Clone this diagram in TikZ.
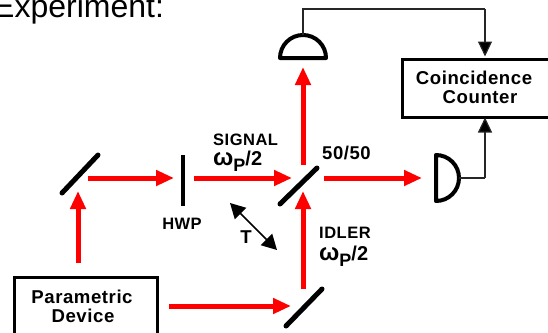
\documentclass[tikz,border=0pt]{standalone}
\usepackage{fontspec}
\setmainfont{Liberation Sans}
\newfontfamily\lblfont[LetterSpace=3,BoldFont={Liberation Sans Bold}]{Liberation Sans}
\usetikzlibrary{arrows.meta}
\tikzset{
  x=1pt,y=-1pt,
  redarrow/.style={draw=red,line width=5pt,-{Triangle[length=18pt,width=15pt,fill=red]}},
  wire/.style={draw=black!85,line width=1.2pt},
  wirearrow/.style={wire,-{Triangle[length=15pt,width=14pt,fill=black]}},
  mirror/.style={line width=5pt,line cap=round},
  det/.style={line width=4pt,line cap=round,line join=round},
  boxnode/.style={draw,line width=3pt,inner sep=0pt,anchor=north west},
  lbl/.style={inner sep=0pt,font=\lblfont\fontsize{16.5}{18}\selectfont\bfseries,align=center},
  big/.style={inner sep=0pt,font=\lblfont\fontsize{18.6}{21}\selectfont\bfseries,align=center},
  title/.style={inner sep=0pt,anchor=base west,font=\fontsize{32}{36}\selectfont},
  omega/.style={lbl,anchor=base west,font=\fontsize{20}{22}\selectfont\bfseries},
}
\newcommand{\omegaP}{{\fontsize{24}{24}\selectfont ω}\raisebox{-6pt}{\fontsize{18}{18}\selectfont P}/2}
\begin{document}
\begin{tikzpicture}
\useasboundingbox (0,0) rectangle (548,332);
\clip (0,0) rectangle (548,332);
% boxes
\node[boxnode,minimum width=143pt,minimum height=70pt] (device) at (13,276) {};
\node[boxnode,minimum width=160pt,minimum height=58pt] (counter) at (400.5,58) {};
% texts
\node[title] (ttl) at (-7,17) {Experiment:};
\node[big] (tc1) at (474,78) {Coincidence};
\node[big] (tc2) at (480,97) {Counter};
\node[big] (td1) at (82,297) {Parametric};
\node[big] (td2) at (83,316) {Device};
\node[lbl,anchor=base west] (sig) at (213,145) {SIGNAL};
\node[omega] (sigw) at (213,165) {\omegaP};
\node[lbl,anchor=base west,font=\lblfont\fontsize{18.5}{20}\selectfont\bfseries] (ff) at (322,159) {50/50};
\node[lbl] (hwp) at (182,224) {HWP};
\node[big] (tt) at (246,237) {T};
\node[lbl,anchor=base west] (idl) at (319,238) {IDLER};
\node[omega] (idlw) at (319,260) {\omegaP};
% optics
\coordinate (m1a) at (62,193); \coordinate (m1b) at (98,155);
\coordinate (m2a) at (280,204); \coordinate (m2b) at (317,168);
\coordinate (m3a) at (286,326); \coordinate (m3b) at (322,289);
\coordinate (hwa) at (183,155); \coordinate (hwb) at (183,206);
\draw[mirror] (m1a) -- (m1b);
\draw[mirror] (m2a) -- (m2b);
\draw[mirror] (m3a) -- (m3b);
\draw[line width=4.5pt] (hwa) -- (hwb);
% detectors
\coordinate (d1l) at (280,58); \coordinate (d1r) at (326,58);
\coordinate (d1t) at (303,35);
\coordinate (d2t) at (436,155); \coordinate (d2b) at (436,201);
\coordinate (d2r) at (459,178);
\draw[det] (d1l) -- (d1r) arc[start angle=0,delta angle=-180,radius=23] -- cycle;
\draw[det] (d2t) -- (d2b) arc[start angle=90,delta angle=-180,radius=23] -- cycle;
% wires
\coordinate (w1) at (303,9); \coordinate (w2) at (485,9);
\coordinate (c1) at (485,56.5); \coordinate (w3) at (485,178); \coordinate (c2) at (485,117.5);
\draw[wire] (d1t) -- (w1) -- (w2);
\draw[wirearrow] (w2) -- (c1);
\draw[wire] (d2r) -- (w3);
\draw[wirearrow] (w3) -- (c2);
% beams
\coordinate (b1s) at (78,263); \coordinate (b1e) at (78,191);
\coordinate (b2s) at (88,178); \coordinate (b2e) at (174,178);
\coordinate (b3s) at (194,178); \coordinate (b3e) at (292,178);
\coordinate (b4s) at (324,178); \coordinate (b4e) at (422,178);
\coordinate (b5s) at (303,289); \coordinate (b5e) at (303,191);
\coordinate (b6s) at (303,165); \coordinate (b6e) at (303,67);
\coordinate (b7s) at (169,306); \coordinate (b7e) at (291,306);
\foreach \s/\e in {b1s/b1e,b2s/b2e,b3s/b3e,b4s/b4e,b5s/b5e,b6s/b6e,b7s/b7e}
  \draw[redarrow] (\s) -- (\e);
% delay arrow
\coordinate (ta) at (230,203); \coordinate (tb) at (277,250);
\draw[line width=1.5pt,{Triangle[length=15pt,width=16pt]}-{Triangle[length=15pt,width=16pt]}] (ta) -- (tb);
\end{tikzpicture}
\end{document}
